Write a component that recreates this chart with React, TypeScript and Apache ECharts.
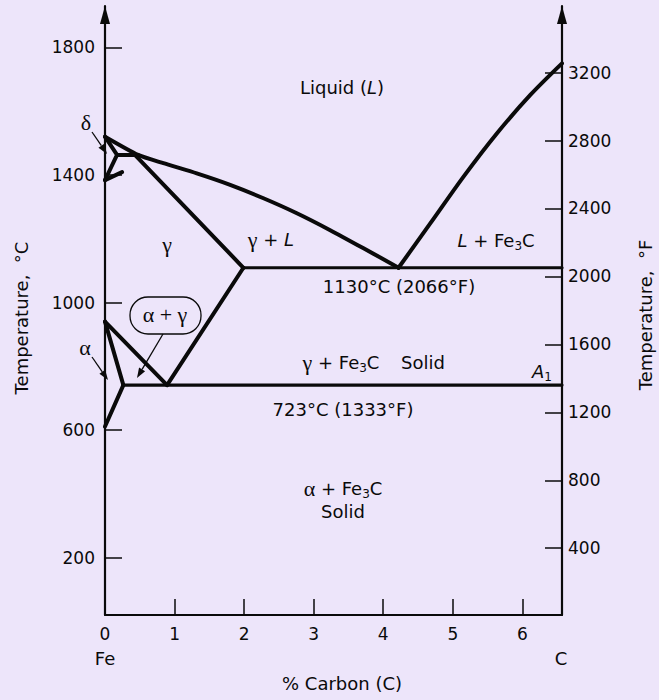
import React, { useEffect, useRef } from 'react';
import * as echarts from 'echarts';

// ---- Axis values ----
const xTickValues = [1, 2, 3, 4, 5, 6];
const xLabelValues = [0, 1, 2, 3, 4, 5, 6];
const celsiusTicks = [200, 600, 1000, 1400, 1800];
const fahrenheitTicks = [400, 800, 1200, 1600, 2000, 2400, 2800, 3200];

// ---- Phase boundaries: [% carbon, temperature °C] ----
const liquidusHypo = [[0, 1520], [0.475, 1463], [0.839, 1437], [1.319, 1405], [1.799, 1369], [2.278, 1327], [2.758, 1280], [3.237, 1227], [3.717, 1170], [4.22, 1109]];
const liquidusHyper = [[4.22, 1109], [4.676, 1248], [5.155, 1395], [5.636, 1531], [6.115, 1651], [6.57, 1750]];
const solidus = [[0.43, 1463], [1.99, 1109]];
const peritectic = [[0.173, 1463], [0.475, 1463]];
const deltaField = [[0, 1520], [0.173, 1463], [0, 1384]];
const deltaGamma = [[0, 1384], [0.245, 1409]];
const eutectic = [[1.99, 1109], [6.57, 1109]];
const acm = [[1.99, 1109], [0.892, 741]];
const a3 = [[0, 940], [0.892, 741]];
const alphaGamma = [[0, 940], [0.264, 741]];
const alphaSolvus = [[0.264, 741], [0, 611]];
const eutectoid = [[0.264, 741], [6.57, 741]];

const INK = '#0a0a0a';
const SANS = 'DejaVu Sans';
const SERIF = 'Liberation Serif';

const rich = {
  n: { fontFamily: SANS, fontSize: 18, fill: INK, lineHeight: 24 },
  i: { fontFamily: SANS, fontSize: 18, fontStyle: 'italic', fill: INK, lineHeight: 24 },
  g: { fontFamily: SERIF, fontSize: 22, fill: INK, lineHeight: 24 },
  s: { fontFamily: SANS, fontSize: 12, fill: INK, lineHeight: 13, verticalAlign: 'bottom' },
};

function label(x: number, y: number, text: string, extra: any = {}) {
  return {
    type: 'text',
    x,
    y,
    ...extra,
    style: {
      text,
      rich,
      align: 'center',
      verticalAlign: 'middle',
      textAlign: 'center',
      textVerticalAlign: 'middle',
      fill: INK,
    },
  };
}

function arrow(x1: number, y1: number, x2: number, y2: number) {
  const dx = x2 - x1;
  const dy = y2 - y1;
  const len = Math.sqrt(dx * dx + dy * dy);
  const ux = dx / len;
  const uy = dy / len;
  const hl = 10;
  const hw = 3.5;
  const bx = x2 - ux * hl;
  const by = y2 - uy * hl;
  return {
    type: 'group',
    children: [
      { type: 'line', shape: { x1, y1, x2: bx, y2: by }, style: { stroke: INK, lineWidth: 1.3 } },
      {
        type: 'polygon',
        shape: { points: [[x2, y2], [bx - uy * hw, by + ux * hw], [bx + uy * hw, by - ux * hw]] },
        style: { fill: INK },
      },
    ],
  };
}

function boundary(data: number[][], width = 4, smooth: number | boolean = false) {
  return {
    type: 'line',
    data,
    symbol: 'none',
    clip: false,
    silent: true,
    smooth,
    lineStyle: { color: INK, width, cap: 'round', join: 'round' },
    xAxisIndex: 0,
    yAxisIndex: 0,
  };
}

const plain = (v: number) => String(v);

export default function App() {
  const ref = useRef<HTMLDivElement>(null);
  useEffect(() => {
    if (!ref.current) return;
    const chart = echarts.init(ref.current, null, { renderer: 'svg' });
    const axisLine = {
      show: true,
      onZero: false,
      lineStyle: { color: INK, width: 2.2 },
    };
    const yArrow = {
      ...axisLine,
      symbol: ['none', 'triangle'],
      symbolSize: [10, 18],
      symbolOffset: [0, -9],
    };
    chart.setOption({
      animation: false,
      backgroundColor: '#ede5fa',
      grid: { left: 105, right: 97, top: 6, bottom: 85, containLabel: false, outerBoundsMode: 'none' },
      xAxis: {
        type: 'value',
        min: 0,
        max: 6.57,
        axisLine,
        splitLine: { show: false },
        axisTick: { show: true, inside: true, length: 16, customValues: xTickValues, lineStyle: { color: INK, width: 1.5 } },
        axisLabel: { customValues: xLabelValues, formatter: plain, color: INK, fontFamily: SANS, fontSize: 17, margin: 10 },
      },
      yAxis: [
        {
          type: 'value',
          position: 'left',
          min: 20,
          max: 1930,
          axisLine: yArrow,
          splitLine: { show: false },
          axisTick: { show: true, inside: true, length: 17, customValues: celsiusTicks, lineStyle: { color: INK, width: 1.5 } },
          axisLabel: { customValues: celsiusTicks, formatter: plain, color: INK, fontFamily: SANS, fontSize: 17, margin: 10 },
        },
        {
          type: 'value',
          position: 'right',
          min: 7,
          max: 3592,
          axisLine: yArrow,
          splitLine: { show: false },
          axisTick: { show: true, inside: true, length: 17, customValues: fahrenheitTicks, lineStyle: { color: INK, width: 1.5 } },
          axisLabel: { customValues: fahrenheitTicks, formatter: plain, color: INK, fontFamily: SANS, fontSize: 17, margin: 6 },
        },
      ],
      series: [
        boundary(liquidusHypo, 4, 0.2),
        boundary(liquidusHyper, 4, 0.3),
        boundary(solidus),
        boundary(peritectic),
        boundary(deltaField),
        boundary(deltaGamma),
        boundary(eutectic, 3.2),
        boundary(acm),
        boundary(a3),
        boundary(alphaGamma),
        boundary(alphaSolvus),
        boundary(eutectoid, 3.2),
      ],
      graphic: [
        label(342, 87, '{n|Liquid (}{i|L}{n|)}'),
        label(86, 122, '{g|δ}'),
        label(167, 244, '{g|γ}'),
        label(271, 239, '{g|γ}{n| + }{i|L}'),
        label(496, 240, '{i|L}{n| + Fe}{s|3}{n|C}'),
        label(399, 286, '{n|1130°C (2066°F)}'),
        label(165, 314, '{g|α + γ}'),
        label(85, 347, '{g|α}'),
        label(341, 362, '{g|γ}{n| + Fe}{s|3}{n|C}'),
        label(423, 362, '{n|Solid}'),
        label(542, 371, '{i|A}{s|1}'),
        label(343, 409, '{n|723°C (1333°F)}'),
        label(343, 488, '{g|α}{n| + Fe}{s|3}{n|C}'),
        label(343, 511, '{n|Solid}'),
        label(105, 658, '{n|Fe}'),
        label(561, 658, '{n|C}'),
        label(342, 683, '{n|% Carbon (C)}'),
        label(21, 318, '{n|Temperature,  °C}', { rotation: Math.PI / 2 }),
        label(645, 315, '{n|Temperature,  °F}', { rotation: Math.PI / 2 }),
        {
          type: 'rect',
          shape: { x: 130, y: 297, width: 71, height: 37, r: 18 },
          style: { fill: 'none', stroke: INK, lineWidth: 1.3 },
        },
        arrow(92, 132, 107, 154),
        arrow(92, 357, 108, 380),
        arrow(163, 334, 137, 378),
      ],
    });
    return () => chart.dispose();
  }, []);
  return (
    <div
      ref={ref}
      style={{ position: 'absolute', left: 0, top: 0, width: 659, height: 700 }}
    />
  );
}
